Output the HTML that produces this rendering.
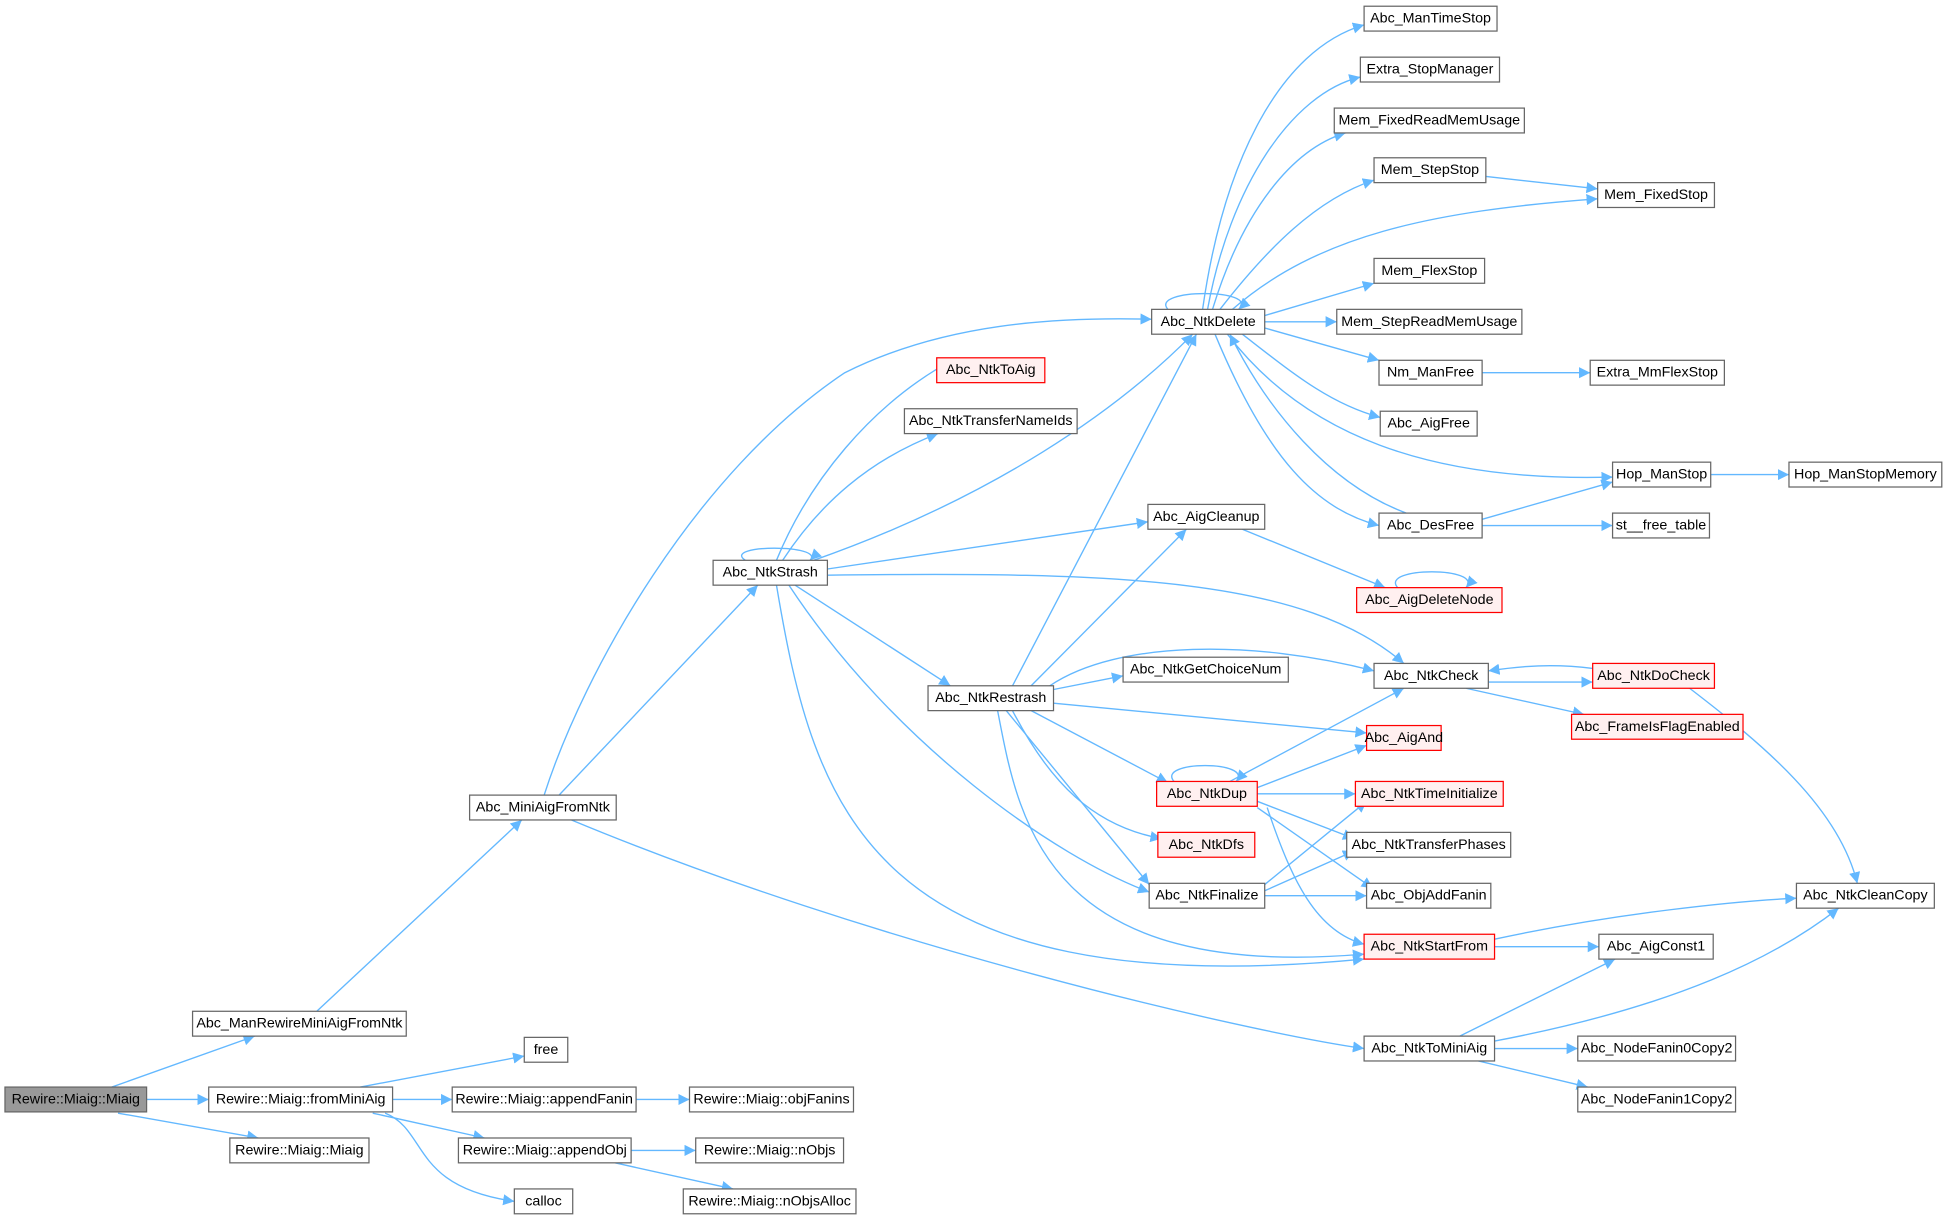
<!DOCTYPE html>
<html><head><meta charset="utf-8"><style>
html,body{margin:0;padding:0;background:#fff;}
svg{display:block}
text{font-family:"Liberation Sans",Arial,sans-serif;font-size:11.5px;fill:#000;text-anchor:middle;dominant-baseline:central}
.n{fill:#fff;stroke:#666;stroke-width:1}
.r{fill:#fff0f0;stroke:#f00;stroke-width:1}
.g{fill:#999;stroke:#666;stroke-width:1}
.e{fill:none;stroke:#63b8ff;stroke-width:1.1;marker-end:url(#a)}
</style></head><body>
<svg width="1948" height="1220" viewBox="0 0 1568 982" xmlns="http://www.w3.org/2000/svg">
<defs><marker id="a" viewBox="0 0 10 10" refX="10" refY="5" markerWidth="9" markerHeight="9" markerUnits="userSpaceOnUse" orient="auto"><path d="M0,0L10,5L0,10z" fill="#63b8ff"/></marker></defs>
<g>
<path class="e" d="M90,875L205,834"/>
<path class="e" d="M118,885L168,885"/>
<path class="e" d="M95,896L208,916"/>
<path class="e" d="M255,814L420,660"/>
<path class="e" d="M290,875L422,850"/>
<path class="e" d="M316,885L364,885"/>
<path class="e" d="M300,896L390,916"/>
<path class="e" d="M310,896C345,910 330,955 414,967"/>
<path class="e" d="M512,885L555,885"/>
<path class="e" d="M508,926L560,926"/>
<path class="e" d="M495,936L590,957"/>
<path class="e" d="M438,640C470,540 560,380 680,300C760,260 850,255 927,257"/>
<path class="e" d="M450,640L610,471"/>
<path class="e" d="M460,660C700,760 1000,830 1098,844"/>
<path class="e" d="M600,451C580,438 665,438 652,451"/>
<path class="e" d="M625,451C650,390 700,325 770,288"/>
<path class="e" d="M630,451C660,405 700,370 755,349"/>
<path class="e" d="M655,451C800,400 900,330 960,269"/>
<path class="e" d="M666,458L924,420"/>
<path class="e" d="M666,463C900,460 1050,465 1130,534"/>
<path class="e" d="M640,471L765,552"/>
<path class="e" d="M635,471C720,600 850,690 925,718"/>
<path class="e" d="M625,471C655,650 700,810 1098,772"/>
<path class="e" d="M815,552L963,269"/>
<path class="e" d="M830,552L955,426"/>
<path class="e" d="M848,555L904,544"/>
<path class="e" d="M845,552C900,515 1010,515 1106,540"/>
<path class="e" d="M848,566L1100,590"/>
<path class="e" d="M830,572L940,630"/>
<path class="e" d="M815,572C845,630 880,665 935,675"/>
<path class="e" d="M810,572L925,712"/>
<path class="e" d="M803,572C820,660 840,790 1098,768"/>
<path class="e" d="M940,249C925,232 1015,232 997,249"/>
<path class="e" d="M968,249C985,130 1030,40 1098,20"/>
<path class="e" d="M972,249C990,150 1040,75 1095,62"/>
<path class="e" d="M976,249C1000,170 1040,120 1083,107"/>
<path class="e" d="M982,249C1020,200 1060,160 1106,145"/>
<path class="e" d="M992,249C1060,190 1150,170 1286,160"/>
<path class="e" d="M1018,254L1106,228"/>
<path class="e" d="M1018,259L1076,259"/>
<path class="e" d="M1018,264L1110,290"/>
<path class="e" d="M1000,269C1040,300 1070,325 1111,336"/>
<path class="e" d="M988,269C1050,350 1150,388 1298,384"/>
<path class="e" d="M978,269C1020,370 1060,410 1110,423"/>
<path class="e" d="M1132,413C1070,390 1020,330 990,269"/>
<path class="e" d="M1193,418L1298,388"/>
<path class="e" d="M1193,423L1298,423"/>
<path class="e" d="M1377,382L1440,382"/>
<path class="e" d="M1193,300L1280,300"/>
<path class="e" d="M1196,142L1286,152"/>
<path class="e" d="M1000,426L1115,473"/>
<path class="e" d="M1125,473C1110,456 1195,456 1180,473"/>
<path class="e" d="M1198,549L1282,549"/>
<path class="e" d="M1282,538C1250,534 1225,536 1198,540"/>
<path class="e" d="M1180,554L1275,575"/>
<path class="e" d="M1360,554C1420,600 1480,650 1495,711"/>
<path class="e" d="M945,629C930,612 1010,612 995,629"/>
<path class="e" d="M990,629L1130,554"/>
<path class="e" d="M1012,634L1100,600"/>
<path class="e" d="M1012,639L1091,639"/>
<path class="e" d="M1012,645L1090,675"/>
<path class="e" d="M1012,650L1105,715"/>
<path class="e" d="M1020,650C1040,710 1060,750 1098,760"/>
<path class="e" d="M1018,712L1100,645"/>
<path class="e" d="M1018,717L1090,685"/>
<path class="e" d="M1018,721L1100,721"/>
<path class="e" d="M1203,756C1300,735 1400,725 1446,723"/>
<path class="e" d="M1203,762L1287,762"/>
<path class="e" d="M1175,834L1300,772"/>
<path class="e" d="M1203,838C1350,810 1430,770 1480,731"/>
<path class="e" d="M1203,844L1270,844"/>
<path class="e" d="M1190,854L1278,875"/>
</g>
<g>
<rect class="g" x="4" y="875" width="114" height="20"/><text x="61" y="885">Rewire::Miaig::Miaig</text>
<rect class="n" x="155" y="814" width="172" height="20"/><text x="241" y="824">Abc_ManRewireMiniAigFromNtk</text>
<rect class="n" x="168" y="875" width="148" height="20"/><text x="242" y="885">Rewire::Miaig::fromMiniAig</text>
<rect class="n" x="185" y="916" width="112" height="20"/><text x="241" y="926">Rewire::Miaig::Miaig</text>
<rect class="n" x="422" y="835" width="35" height="20"/><text x="439.5" y="845">free</text>
<rect class="n" x="364" y="875" width="148" height="20"/><text x="438" y="885">Rewire::Miaig::appendFanin</text>
<rect class="n" x="555" y="875" width="132" height="20"/><text x="621" y="885">Rewire::Miaig::objFanins</text>
<rect class="n" x="369" y="916" width="139" height="20"/><text x="438.5" y="926">Rewire::Miaig::appendObj</text>
<rect class="n" x="560" y="916" width="119" height="20"/><text x="619.5" y="926">Rewire::Miaig::nObjs</text>
<rect class="n" x="414" y="957" width="47" height="20"/><text x="437.5" y="967">calloc</text>
<rect class="n" x="550" y="957" width="139" height="20"/><text x="619.5" y="967">Rewire::Miaig::nObjsAlloc</text>
<rect class="n" x="378" y="640" width="118" height="20"/><text x="437" y="650">Abc_MiniAigFromNtk</text>
<rect class="n" x="574" y="451" width="92" height="20"/><text x="620" y="461">Abc_NtkStrash</text>
<rect class="r" x="754" y="288" width="87" height="20"/><text x="797.5" y="298">Abc_NtkToAig</text>
<rect class="n" x="728" y="329" width="139" height="20"/><text x="797.5" y="339">Abc_NtkTransferNameIds</text>
<rect class="n" x="927" y="249" width="91" height="20"/><text x="972.5" y="259">Abc_NtkDelete</text>
<rect class="n" x="747" y="552" width="101" height="20"/><text x="797.5" y="562">Abc_NtkRestrash</text>
<rect class="n" x="904" y="529" width="133" height="20"/><text x="970.5" y="539">Abc_NtkGetChoiceNum</text>
<rect class="n" x="924" y="406" width="94" height="20"/><text x="971" y="416">Abc_AigCleanup</text>
<rect class="r" x="931" y="629" width="81" height="20"/><text x="971.5" y="639">Abc_NtkDup</text>
<rect class="r" x="932" y="670" width="78" height="20"/><text x="971" y="680">Abc_NtkDfs</text>
<rect class="n" x="925" y="711" width="93" height="20"/><text x="971.5" y="721">Abc_NtkFinalize</text>
<rect class="n" x="1106" y="534" width="92" height="20"/><text x="1152" y="544">Abc_NtkCheck</text>
<rect class="r" x="1100" y="584" width="60" height="20"/><text x="1130" y="594">Abc_AigAnd</text>
<rect class="r" x="1091" y="629" width="119" height="20"/><text x="1150.5" y="639">Abc_NtkTimeInitialize</text>
<rect class="n" x="1084" y="670" width="132" height="20"/><text x="1150" y="680">Abc_NtkTransferPhases</text>
<rect class="n" x="1100" y="711" width="100" height="20"/><text x="1150" y="721">Abc_ObjAddFanin</text>
<rect class="r" x="1098" y="752" width="105" height="20"/><text x="1150.5" y="762">Abc_NtkStartFrom</text>
<rect class="n" x="1098" y="834" width="105" height="20"/><text x="1150.5" y="844">Abc_NtkToMiniAig</text>
<rect class="r" x="1092" y="473" width="117" height="20"/><text x="1150.5" y="483">Abc_AigDeleteNode</text>
<rect class="n" x="1098" y="5" width="107" height="20"/><text x="1151.5" y="15">Abc_ManTimeStop</text>
<rect class="n" x="1095" y="46" width="112" height="20"/><text x="1151" y="56">Extra_StopManager</text>
<rect class="n" x="1074" y="87" width="153" height="20"/><text x="1150.5" y="97">Mem_FixedReadMemUsage</text>
<rect class="n" x="1106" y="127" width="90" height="20"/><text x="1151" y="137">Mem_StepStop</text>
<rect class="n" x="1286" y="147" width="94" height="20"/><text x="1333" y="157">Mem_FixedStop</text>
<rect class="n" x="1106" y="208" width="89" height="20"/><text x="1150.5" y="218">Mem_FlexStop</text>
<rect class="n" x="1076" y="249" width="149" height="20"/><text x="1150.5" y="259">Mem_StepReadMemUsage</text>
<rect class="n" x="1110" y="290" width="83" height="20"/><text x="1151.5" y="300">Nm_ManFree</text>
<rect class="n" x="1280" y="290" width="108" height="20"/><text x="1334" y="300">Extra_MmFlexStop</text>
<rect class="n" x="1111" y="331" width="78" height="20"/><text x="1150" y="341">Abc_AigFree</text>
<rect class="n" x="1298" y="372" width="79" height="20"/><text x="1337.5" y="382">Hop_ManStop</text>
<rect class="n" x="1440" y="372" width="123" height="20"/><text x="1501.5" y="382">Hop_ManStopMemory</text>
<rect class="n" x="1110" y="413" width="83" height="20"/><text x="1151.5" y="423">Abc_DesFree</text>
<rect class="n" x="1298" y="413" width="78" height="20"/><text x="1337" y="423">st__free_table</text>
<rect class="r" x="1282" y="534" width="98" height="20"/><text x="1331" y="544">Abc_NtkDoCheck</text>
<rect class="r" x="1265" y="575" width="138" height="20"/><text x="1334" y="585">Abc_FrameIsFlagEnabled</text>
<rect class="n" x="1446" y="711" width="111" height="20"/><text x="1501.5" y="721">Abc_NtkCleanCopy</text>
<rect class="n" x="1287" y="752" width="92" height="20"/><text x="1333" y="762">Abc_AigConst1</text>
<rect class="n" x="1270" y="834" width="127" height="20"/><text x="1333.5" y="844">Abc_NodeFanin0Copy2</text>
<rect class="n" x="1270" y="875" width="127" height="20"/><text x="1333.5" y="885">Abc_NodeFanin1Copy2</text>
</g>
</svg>
</body></html>
